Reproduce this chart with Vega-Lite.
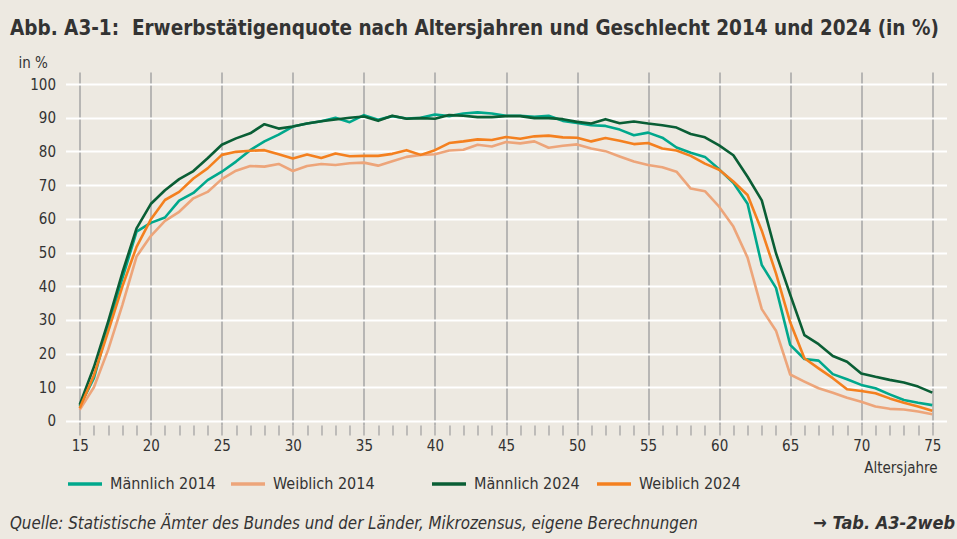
{
  "$schema": "https://vega.github.io/schema/vega-lite/v6.json",
  "width": 881,
  "height": 353,
  "autosize": {"type": "none"},
  "padding": {"left": 65.5, "top": 72, "right": 10.5, "bottom": 114},
  "title": {
    "text": "Abb. A3-1:\u00a0 Erwerbstätigenquote nach Altersjahren und Geschlecht 2014 und 2024 (in %)",
    "anchor": "start", "frame": "group", "dx": -55.5, "offset": 0, "baseline": "alphabetic",
    "fontSize": 20.5, "font": "DejaVu Sans Condensed", "fontWeight": "bold", "color": "#333333"
  },
  "datasets": {
    "d2014": [
      {"age":15,"series":"Männlich 2014","value":4.3},{"age":16,"series":"Männlich 2014","value":12.7},{"age":17,"series":"Männlich 2014","value":28},{"age":18,"series":"Männlich 2014","value":42.3},{"age":19,"series":"Männlich 2014","value":56.2},{"age":20,"series":"Männlich 2014","value":58.8},{"age":21,"series":"Männlich 2014","value":60.4},{"age":22,"series":"Männlich 2014","value":65.4},{"age":23,"series":"Männlich 2014","value":67.7},{"age":24,"series":"Männlich 2014","value":71.5},{"age":25,"series":"Männlich 2014","value":74},{"age":26,"series":"Männlich 2014","value":77},{"age":27,"series":"Männlich 2014","value":80.4},{"age":28,"series":"Männlich 2014","value":83},{"age":29,"series":"Männlich 2014","value":85},{"age":30,"series":"Männlich 2014","value":87.4},{"age":31,"series":"Männlich 2014","value":88.3},{"age":32,"series":"Männlich 2014","value":89},{"age":33,"series":"Männlich 2014","value":90},{"age":34,"series":"Männlich 2014","value":88.7},{"age":35,"series":"Männlich 2014","value":90.8},{"age":36,"series":"Männlich 2014","value":89.4},{"age":37,"series":"Männlich 2014","value":90.5},{"age":38,"series":"Männlich 2014","value":89.8},{"age":39,"series":"Männlich 2014","value":90},{"age":40,"series":"Männlich 2014","value":91},{"age":41,"series":"Männlich 2014","value":90.5},{"age":42,"series":"Männlich 2014","value":91.3},{"age":43,"series":"Männlich 2014","value":91.6},{"age":44,"series":"Männlich 2014","value":91.3},{"age":45,"series":"Männlich 2014","value":90.6},{"age":46,"series":"Männlich 2014","value":90.6},{"age":47,"series":"Männlich 2014","value":90.3},{"age":48,"series":"Männlich 2014","value":90.6},{"age":49,"series":"Männlich 2014","value":89.1},{"age":50,"series":"Männlich 2014","value":88.5},{"age":51,"series":"Männlich 2014","value":87.8},{"age":52,"series":"Männlich 2014","value":87.6},{"age":53,"series":"Männlich 2014","value":86.5},{"age":54,"series":"Männlich 2014","value":84.8},{"age":55,"series":"Männlich 2014","value":85.6},{"age":56,"series":"Männlich 2014","value":84.1},{"age":57,"series":"Männlich 2014","value":81.2},{"age":58,"series":"Männlich 2014","value":79.6},{"age":59,"series":"Männlich 2014","value":78.4},{"age":60,"series":"Männlich 2014","value":74.7},{"age":61,"series":"Männlich 2014","value":70.7},{"age":62,"series":"Männlich 2014","value":64.5},{"age":63,"series":"Männlich 2014","value":46.3},{"age":64,"series":"Männlich 2014","value":39.5},{"age":65,"series":"Männlich 2014","value":22.6},{"age":66,"series":"Männlich 2014","value":18.4},{"age":67,"series":"Männlich 2014","value":17.9},{"age":68,"series":"Männlich 2014","value":13.9},{"age":69,"series":"Männlich 2014","value":12.4},{"age":70,"series":"Männlich 2014","value":10.7},{"age":71,"series":"Männlich 2014","value":9.7},{"age":72,"series":"Männlich 2014","value":7.9},{"age":73,"series":"Männlich 2014","value":6.2},{"age":74,"series":"Männlich 2014","value":5.4},{"age":75,"series":"Männlich 2014","value":4.7},
      {"age":15,"series":"Weiblich 2014","value":3.3},{"age":16,"series":"Weiblich 2014","value":10},{"age":17,"series":"Weiblich 2014","value":21.1},{"age":18,"series":"Weiblich 2014","value":34.4},{"age":19,"series":"Weiblich 2014","value":48.8},{"age":20,"series":"Weiblich 2014","value":54.9},{"age":21,"series":"Weiblich 2014","value":59.4},{"age":22,"series":"Weiblich 2014","value":62.1},{"age":23,"series":"Weiblich 2014","value":66.1},{"age":24,"series":"Weiblich 2014","value":68},{"age":25,"series":"Weiblich 2014","value":71.8},{"age":26,"series":"Weiblich 2014","value":74.3},{"age":27,"series":"Weiblich 2014","value":75.7},{"age":28,"series":"Weiblich 2014","value":75.5},{"age":29,"series":"Weiblich 2014","value":76.3},{"age":30,"series":"Weiblich 2014","value":74.2},{"age":31,"series":"Weiblich 2014","value":75.7},{"age":32,"series":"Weiblich 2014","value":76.3},{"age":33,"series":"Weiblich 2014","value":76},{"age":34,"series":"Weiblich 2014","value":76.5},{"age":35,"series":"Weiblich 2014","value":76.7},{"age":36,"series":"Weiblich 2014","value":75.8},{"age":37,"series":"Weiblich 2014","value":77.1},{"age":38,"series":"Weiblich 2014","value":78.4},{"age":39,"series":"Weiblich 2014","value":79},{"age":40,"series":"Weiblich 2014","value":79.2},{"age":41,"series":"Weiblich 2014","value":80.3},{"age":42,"series":"Weiblich 2014","value":80.5},{"age":43,"series":"Weiblich 2014","value":82},{"age":44,"series":"Weiblich 2014","value":81.5},{"age":45,"series":"Weiblich 2014","value":82.8},{"age":46,"series":"Weiblich 2014","value":82.4},{"age":47,"series":"Weiblich 2014","value":83},{"age":48,"series":"Weiblich 2014","value":81.1},{"age":49,"series":"Weiblich 2014","value":81.7},{"age":50,"series":"Weiblich 2014","value":82.1},{"age":51,"series":"Weiblich 2014","value":80.9},{"age":52,"series":"Weiblich 2014","value":80.1},{"age":53,"series":"Weiblich 2014","value":78.5},{"age":54,"series":"Weiblich 2014","value":77},{"age":55,"series":"Weiblich 2014","value":76},{"age":56,"series":"Weiblich 2014","value":75.3},{"age":57,"series":"Weiblich 2014","value":74},{"age":58,"series":"Weiblich 2014","value":69},{"age":59,"series":"Weiblich 2014","value":68.2},{"age":60,"series":"Weiblich 2014","value":63.6},{"age":61,"series":"Weiblich 2014","value":57.7},{"age":62,"series":"Weiblich 2014","value":48.5},{"age":63,"series":"Weiblich 2014","value":33.2},{"age":64,"series":"Weiblich 2014","value":26.8},{"age":65,"series":"Weiblich 2014","value":13.8},{"age":66,"series":"Weiblich 2014","value":11.7},{"age":67,"series":"Weiblich 2014","value":9.7},{"age":68,"series":"Weiblich 2014","value":8.4},{"age":69,"series":"Weiblich 2014","value":6.9},{"age":70,"series":"Weiblich 2014","value":5.7},{"age":71,"series":"Weiblich 2014","value":4.3},{"age":72,"series":"Weiblich 2014","value":3.6},{"age":73,"series":"Weiblich 2014","value":3.4},{"age":74,"series":"Weiblich 2014","value":2.8},{"age":75,"series":"Weiblich 2014","value":2.0}
    ],
    "d2024": [
      {"age":15,"series":"Männlich 2024","value":4.8},{"age":16,"series":"Männlich 2024","value":16},{"age":17,"series":"Männlich 2024","value":29.5},{"age":18,"series":"Männlich 2024","value":44},{"age":19,"series":"Männlich 2024","value":57.2},{"age":20,"series":"Männlich 2024","value":64.4},{"age":21,"series":"Männlich 2024","value":68.5},{"age":22,"series":"Männlich 2024","value":71.8},{"age":23,"series":"Männlich 2024","value":74.2},{"age":24,"series":"Männlich 2024","value":78},{"age":25,"series":"Männlich 2024","value":82},{"age":26,"series":"Männlich 2024","value":83.9},{"age":27,"series":"Männlich 2024","value":85.4},{"age":28,"series":"Männlich 2024","value":88.1},{"age":29,"series":"Männlich 2024","value":86.8},{"age":30,"series":"Männlich 2024","value":87.4},{"age":31,"series":"Männlich 2024","value":88.3},{"age":32,"series":"Männlich 2024","value":89},{"age":33,"series":"Männlich 2024","value":89.5},{"age":34,"series":"Männlich 2024","value":90},{"age":35,"series":"Männlich 2024","value":90.4},{"age":36,"series":"Männlich 2024","value":89.1},{"age":37,"series":"Männlich 2024","value":90.6},{"age":38,"series":"Männlich 2024","value":89.7},{"age":39,"series":"Männlich 2024","value":89.9},{"age":40,"series":"Männlich 2024","value":89.7},{"age":41,"series":"Männlich 2024","value":90.8},{"age":42,"series":"Männlich 2024","value":90.6},{"age":43,"series":"Männlich 2024","value":90.2},{"age":44,"series":"Männlich 2024","value":90.2},{"age":45,"series":"Männlich 2024","value":90.5},{"age":46,"series":"Männlich 2024","value":90.5},{"age":47,"series":"Männlich 2024","value":89.9},{"age":48,"series":"Männlich 2024","value":89.9},{"age":49,"series":"Männlich 2024","value":89.6},{"age":50,"series":"Männlich 2024","value":88.8},{"age":51,"series":"Männlich 2024","value":88.3},{"age":52,"series":"Männlich 2024","value":89.6},{"age":53,"series":"Männlich 2024","value":88.4},{"age":54,"series":"Männlich 2024","value":88.9},{"age":55,"series":"Männlich 2024","value":88.3},{"age":56,"series":"Männlich 2024","value":87.8},{"age":57,"series":"Männlich 2024","value":87.1},{"age":58,"series":"Männlich 2024","value":85.2},{"age":59,"series":"Männlich 2024","value":84.2},{"age":60,"series":"Männlich 2024","value":81.8},{"age":61,"series":"Männlich 2024","value":78.9},{"age":62,"series":"Männlich 2024","value":72.5},{"age":63,"series":"Männlich 2024","value":65.5},{"age":64,"series":"Männlich 2024","value":49.8},{"age":65,"series":"Männlich 2024","value":37.5},{"age":66,"series":"Männlich 2024","value":25.5},{"age":67,"series":"Männlich 2024","value":22.8},{"age":68,"series":"Männlich 2024","value":19.3},{"age":69,"series":"Männlich 2024","value":17.6},{"age":70,"series":"Männlich 2024","value":14.1},{"age":71,"series":"Männlich 2024","value":13.1},{"age":72,"series":"Männlich 2024","value":12.2},{"age":73,"series":"Männlich 2024","value":11.4},{"age":74,"series":"Männlich 2024","value":10.2},{"age":75,"series":"Männlich 2024","value":8.4},
      {"age":15,"series":"Weiblich 2024","value":3.8},{"age":16,"series":"Weiblich 2024","value":13.6},{"age":17,"series":"Weiblich 2024","value":26.5},{"age":18,"series":"Weiblich 2024","value":39.9},{"age":19,"series":"Weiblich 2024","value":51.7},{"age":20,"series":"Weiblich 2024","value":59.8},{"age":21,"series":"Weiblich 2024","value":65.6},{"age":22,"series":"Weiblich 2024","value":68},{"age":23,"series":"Weiblich 2024","value":72},{"age":24,"series":"Weiblich 2024","value":75},{"age":25,"series":"Weiblich 2024","value":79},{"age":26,"series":"Weiblich 2024","value":79.9},{"age":27,"series":"Weiblich 2024","value":80.2},{"age":28,"series":"Weiblich 2024","value":80.4},{"age":29,"series":"Weiblich 2024","value":79.2},{"age":30,"series":"Weiblich 2024","value":77.9},{"age":31,"series":"Weiblich 2024","value":79.1},{"age":32,"series":"Weiblich 2024","value":78.1},{"age":33,"series":"Weiblich 2024","value":79.4},{"age":34,"series":"Weiblich 2024","value":78.6},{"age":35,"series":"Weiblich 2024","value":78.7},{"age":36,"series":"Weiblich 2024","value":78.7},{"age":37,"series":"Weiblich 2024","value":79.3},{"age":38,"series":"Weiblich 2024","value":80.4},{"age":39,"series":"Weiblich 2024","value":79},{"age":40,"series":"Weiblich 2024","value":80.4},{"age":41,"series":"Weiblich 2024","value":82.5},{"age":42,"series":"Weiblich 2024","value":83},{"age":43,"series":"Weiblich 2024","value":83.6},{"age":44,"series":"Weiblich 2024","value":83.4},{"age":45,"series":"Weiblich 2024","value":84.3},{"age":46,"series":"Weiblich 2024","value":83.8},{"age":47,"series":"Weiblich 2024","value":84.5},{"age":48,"series":"Weiblich 2024","value":84.7},{"age":49,"series":"Weiblich 2024","value":84.2},{"age":50,"series":"Weiblich 2024","value":84.1},{"age":51,"series":"Weiblich 2024","value":83},{"age":52,"series":"Weiblich 2024","value":84},{"age":53,"series":"Weiblich 2024","value":83.2},{"age":54,"series":"Weiblich 2024","value":82.2},{"age":55,"series":"Weiblich 2024","value":82.5},{"age":56,"series":"Weiblich 2024","value":80.9},{"age":57,"series":"Weiblich 2024","value":80.3},{"age":58,"series":"Weiblich 2024","value":78.7},{"age":59,"series":"Weiblich 2024","value":76.4},{"age":60,"series":"Weiblich 2024","value":74.6},{"age":61,"series":"Weiblich 2024","value":71.1},{"age":62,"series":"Weiblich 2024","value":67.1},{"age":63,"series":"Weiblich 2024","value":56.5},{"age":64,"series":"Weiblich 2024","value":43.8},{"age":65,"series":"Weiblich 2024","value":29.3},{"age":66,"series":"Weiblich 2024","value":18.6},{"age":67,"series":"Weiblich 2024","value":15.6},{"age":68,"series":"Weiblich 2024","value":12.7},{"age":69,"series":"Weiblich 2024","value":9.4},{"age":70,"series":"Weiblich 2024","value":8.9},{"age":71,"series":"Weiblich 2024","value":8.2},{"age":72,"series":"Weiblich 2024","value":6.7},{"age":73,"series":"Weiblich 2024","value":5.4},{"age":74,"series":"Weiblich 2024","value":4.3},{"age":75,"series":"Weiblich 2024","value":3.0}
    ],
    "notes": [
      {"note": "Quelle: Statistische Ämter des Bundes und der Länder, Mikrozensus, eigene Berechnungen", "side": "left", "pos": 10.09},
      {"note": "→ Tab. A3-2web", "side": "right", "pos": 76.6}
    ]
  },
  "layer": [
    {
      "data": {"name": "d2014"},
      "mark": {"type": "line", "strokeWidth": 2.6, "strokeJoin": "round"},
      "encoding": {
        "x": {"field": "age", "type": "quantitative",
          "scale": {"domain": [14, 76], "nice": false, "zero": false},
          "axis": {
            "values": [15,16,17,18,19,20,21,22,23,24,25,26,27,28,29,30,31,32,33,34,35,36,37,38,39,40,41,42,43,44,45,46,47,48,49,50,51,52,53,54,55,56,57,58,59,60,61,62,63,64,65,66,67,68,69,70,71,72,73,74,75],
            "tickCount": 200,
            "format": "d",
            "labelOverlap": false,
            "labelExpr": "datum.value % 5 === 0 ? datum.label : ''",
            "grid": true, "gridColor": "#A4A4A4", "gridWidth": 1.5,
            "gridOpacity": {"condition": {"test": "datum.value % 5 === 0", "value": 1}, "value": 0},
            "domain": false, "ticks": true, "tickSize": 10, "tickColor": "#A4A4A4", "tickWidth": 1.3,
            "labelPadding": 3, "labelFontSize": 15, "labelColor": "#333333", "labelFont": "DejaVu Sans Condensed",
            "title": "Altersjahre", "titleAnchor": "end", "titleAlign": "right", "titleBaseline": "alphabetic",
            "titleX": 871.5, "titleY": 47, "titleFontSize": 15, "titleFontWeight": "normal", "titleColor": "#333333", "titleFont": "DejaVu Sans Condensed"
          }
        },
        "y": {"field": "value", "type": "quantitative",
          "scale": {"domain": [-1.2, 103.6], "nice": false, "zero": false},
          "axis": {
            "values": [0,10,20,30,40,50,60,70,80,90,100],
            "tickCount": 50,
            "format": "d",
            "labelOverlap": false,
            "grid": true, "gridColor": "#FFFFFF", "gridWidth": 2,
            "domain": false, "ticks": false, "labelPadding": 10, "labelFontSize": 15, "labelColor": "#333333", "labelFont": "DejaVu Sans Condensed",
            "title": "in %", "titleAngle": 0, "titleAlign": "left", "titleBaseline": "alphabetic",
            "titleX": -47.5, "titleY": -5, "titleFontSize": 15, "titleFontWeight": "normal", "titleColor": "#333333", "titleFont": "DejaVu Sans Condensed"
          }
        },
        "color": {"field": "series", "type": "nominal",
          "scale": {"domain": ["Männlich 2014", "Weiblich 2014"], "range": ["#00A88C", "#EDA57A"]},
          "legend": {"orient": "none", "legendX": 0.5, "legendY": 393, "direction": "horizontal", "title": null,
            "symbolType": "stroke", "symbolSize": 1156, "symbolStrokeWidth": 3.5, "labelOffset": 6, "columnPadding": 8,
            "labelFontSize": 16, "labelColor": "#333333", "labelFont": "DejaVu Sans Condensed"}
        }
      }
    },
    {
      "data": {"name": "d2024"},
      "mark": {"type": "line", "strokeWidth": 2.6, "strokeJoin": "round"},
      "encoding": {
        "x": {"field": "age", "type": "quantitative", "scale": {"domain": [14, 76], "nice": false, "zero": false}},
        "y": {"field": "value", "type": "quantitative", "scale": {"domain": [-1.2, 103.6], "nice": false, "zero": false}},
        "color": {"field": "series", "type": "nominal",
          "scale": {"domain": ["Männlich 2024", "Weiblich 2024"], "range": ["#0A5E35", "#F4801F"]},
          "legend": {"orient": "none", "legendX": 364.5, "legendY": 393, "direction": "horizontal", "title": null,
            "symbolType": "stroke", "symbolSize": 1156, "symbolStrokeWidth": 3.5, "labelOffset": 6, "columnPadding": 10,
            "labelFontSize": 16, "labelColor": "#333333", "labelFont": "DejaVu Sans Condensed"}
        }
      }
    },
    {
      "data": {"name": "notes"},
      "transform": [{"filter": "datum.side === 'left'"}],
      "mark": {"type": "text", "align": "left", "baseline": "alphabetic", "fontSize": 16.8, "fontStyle": "italic", "font": "DejaVu Sans Condensed", "color": "#333333"},
      "encoding": {
        "x": {"field": "pos", "type": "quantitative", "scale": {"domain": [14, 76], "nice": false, "zero": false}},
        "y": {"datum": -32, "type": "quantitative", "scale": {"domain": [-1.2, 103.6], "nice": false, "zero": false}},
        "text": {"field": "note"}
      }
    },
    {
      "data": {"name": "notes"},
      "transform": [{"filter": "datum.side === 'right'"}],
      "mark": {"type": "text", "align": "right", "baseline": "alphabetic", "fontSize": 18, "fontStyle": "italic", "fontWeight": "bold", "font": "DejaVu Sans Condensed", "color": "#333333"},
      "encoding": {
        "x": {"field": "pos", "type": "quantitative", "scale": {"domain": [14, 76], "nice": false, "zero": false}},
        "y": {"datum": -32, "type": "quantitative", "scale": {"domain": [-1.2, 103.6], "nice": false, "zero": false}},
        "text": {"field": "note"}
      }
    }
  ],
  "resolve": {"scale": {"color": "independent"}, "legend": {"color": "independent"}},
  "config": {
    "background": "#EDE9E1",
    "view": {"stroke": null},
    "font": "DejaVu Sans Condensed"
  }
}
